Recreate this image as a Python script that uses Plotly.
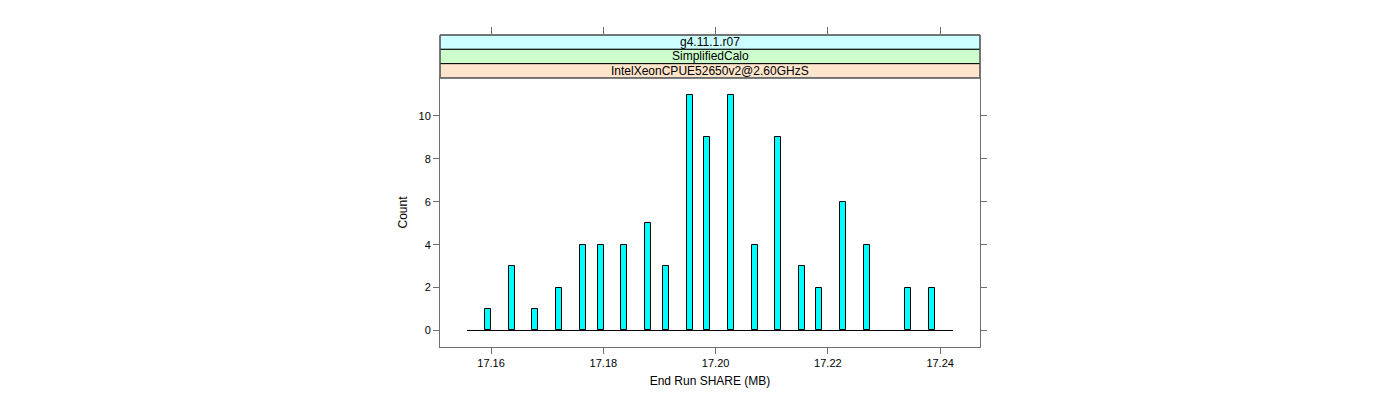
import plotly.graph_objects as go

# Data
share_mb = [17.1595, 17.1637, 17.1679, 17.1721, 17.1764, 17.1796, 17.1837, 17.1880,
            17.1912, 17.1954, 17.1985, 17.2027, 17.2070, 17.2111, 17.2154, 17.2185,
            17.2227, 17.2270, 17.2343, 17.2385]
counts = [1, 3, 1, 2, 4, 4, 4, 5, 3, 11, 9, 11, 4, 9, 3, 2, 6, 4, 2, 2]
x_ticks = [17.16, 17.18, 17.20, 17.22, 17.24]
x_tick_labels = ["17.16", "17.18", "17.20", "17.22", "17.24"]
y_ticks = [0, 2, 4, 6, 8, 10]
strip_labels = ["g4.11.1.r07", "SimplifiedCalo", "IntelXeonCPUE52650v2@2.60GHzS"]
strip_colors = ["#ccffff", "#ccffcc", "#ffe5cc"]

FONT = "Liberation Sans, Arial, sans-serif"
LINE_COL = "#6e6e6e"

x_range = [17.1509, 17.2471]
y_range = [-0.77, 11.77]
pad = 0.0038
base_x = [min(share_mb) - pad, max(share_mb) + pad]

fig = go.Figure()
fig.add_trace(go.Scatter(x=base_x, y=[0, 0], mode="lines",
                         line=dict(color="black", width=1), hoverinfo="skip",
                         showlegend=False))
fig.add_trace(go.Bar(x=share_mb, y=counts, width=0.00107,
                     marker=dict(color="#00ffff", line=dict(color="black", width=1)),
                     showlegend=False))
# invisible trace anchoring the strip area / top tick axis
fig.add_trace(go.Scatter(x=[share_mb[0]], y=[0], xaxis="x2", yaxis="y2", mode="markers",
                         marker=dict(opacity=0), hoverinfo="skip", showlegend=False))

# page body has an 8px offset; compensate
W, H = 1392, 392
ml, mr, mt, mb = 432, 420, 27, 53
plot_h = H - mt - mb
panel_top = 1 - (78 - 8 - mt) / plot_h

fig.update_layout(
    width=W, height=H,
    margin=dict(l=ml, r=mr, t=mt, b=mb, pad=0),
    plot_bgcolor="rgba(0,0,0,0)", paper_bgcolor="white",
    font=dict(family=FONT, size=11, color="black"),
    bargap=0,
    xaxis=dict(range=x_range, tickvals=x_ticks, ticktext=x_tick_labels,
               ticks="outside", ticklen=6, tickcolor=LINE_COL,
               showline=True, linecolor=LINE_COL, linewidth=1, mirror=True,
               showgrid=False, zeroline=False,
               title=dict(text="End Run SHARE (MB)", font=dict(size=12), standoff=8),
               tickfont=dict(size=11)),
    xaxis2=dict(range=x_range, tickvals=x_ticks, side="top", anchor="y2",
                showticklabels=False, ticks="outside", ticklen=7, tickcolor=LINE_COL,
                showline=False, showgrid=False, zeroline=False),
    yaxis=dict(range=y_range, domain=[0, panel_top], tickvals=y_ticks,
               ticks="outside", ticklen=6, tickcolor=LINE_COL,
               showline=True, linecolor=LINE_COL, linewidth=1, mirror="ticks",
               showgrid=False, zeroline=False,
               title=dict(text="Count", font=dict(size=12), standoff=8),
               tickfont=dict(size=11)),
    yaxis2=dict(domain=[panel_top, 1], anchor="x2", range=[0, 1],
                showticklabels=False, ticks="", showline=False,
                showgrid=False, zeroline=False),
)

strip_h = (1 - panel_top) / len(strip_labels)
shapes = []
annotations = []
for i, (lab, col) in enumerate(zip(strip_labels, strip_colors)):
    y1 = 1 - i * strip_h
    y0 = y1 - strip_h
    shapes.append(dict(type="rect", xref="paper", yref="paper", x0=0, x1=1,
                       y0=y0, y1=y1, fillcolor=col,
                       line=dict(color="black", width=1), layer="below"))
    annotations.append(dict(xref="paper", yref="paper", x=0.5, y=(y0 + y1) / 2,
                            text=lab, showarrow=False,
                            font=dict(family=FONT, size=12, color="black"),
                            xanchor="center", yanchor="middle"))
# grey outer sides of strips
for (x0, x1, y0, y1) in [(0, 0, panel_top, 1), (1, 1, panel_top, 1), (0, 1, 1, 1)]:
    shapes.append(dict(type="line", xref="paper", yref="paper", x0=x0, x1=x1,
                       y0=y0, y1=y1, line=dict(color=LINE_COL, width=1)))
fig.update_layout(shapes=shapes, annotations=annotations)

fig.write_html("out.html")
